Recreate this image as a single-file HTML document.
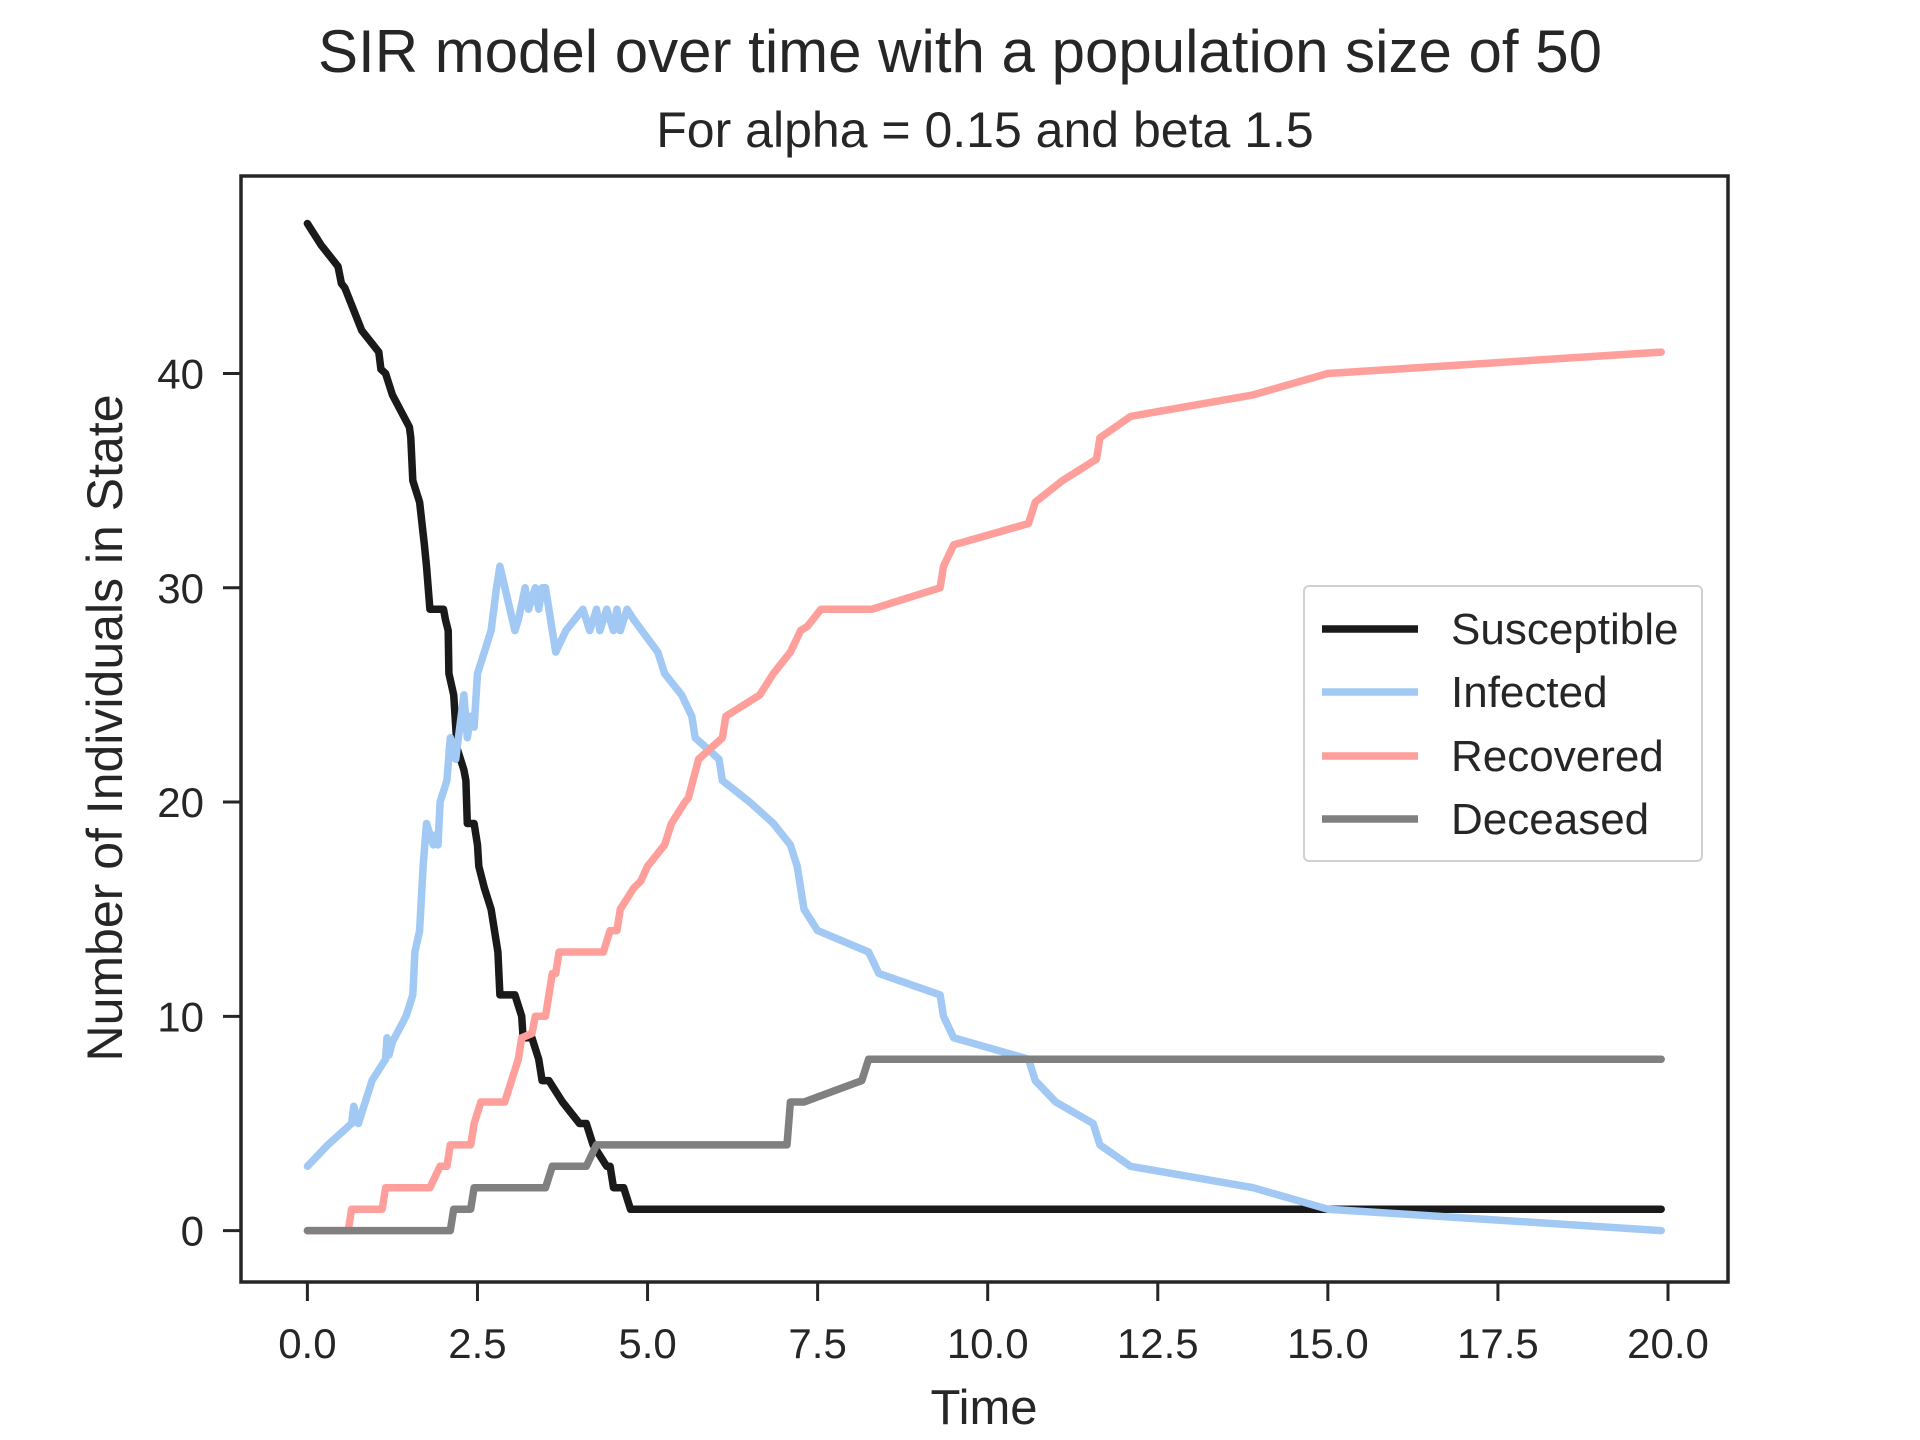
<!DOCTYPE html>
<html><head><meta charset="utf-8"><style>
html,body{margin:0;padding:0;background:#fff;}
svg{display:block;font-family:"Liberation Sans",Arial,sans-serif;}
</style></head><body>
<svg id="chart" width="1920" height="1440" viewBox="0 0 1920 1440">
<rect width="1920" height="1440" fill="#fff"/>
<text x="960" y="72" font-size="60" text-anchor="middle" fill="#262626">SIR model over time with a population size of 50</text>
<text x="985" y="147" font-size="50" text-anchor="middle" fill="#262626">For alpha = 0.15 and beta 1.5</text>
<g id="plot"></g>
<rect x="241" y="176" width="1487" height="1106" fill="none" stroke="#262626" stroke-width="3.5"/>
<text x="984" y="1424" font-size="49" text-anchor="middle" fill="#262626">Time</text>
<text x="0" y="0" font-size="50" text-anchor="middle" fill="#262626" transform="translate(122,728) rotate(-90)">Number of Individuals in State</text>
<g>
<rect x="1304" y="586" width="398" height="275" rx="5" fill="#fff" stroke="#d0d0d0" stroke-width="2"/>
<line x1="1322" y1="629" x2="1418" y2="629" stroke="#1a1a1a" stroke-width="7.5"/>
<text x="1451" y="644" font-size="44" fill="#262626">Susceptible</text>
<line x1="1322" y1="692" x2="1418" y2="692" stroke="#a1c9f4" stroke-width="7.5"/>
<text x="1451" y="707" font-size="44" fill="#262626">Infected</text>
<line x1="1322" y1="756" x2="1418" y2="756" stroke="#ff9f9b" stroke-width="7.5"/>
<text x="1451" y="771" font-size="44" fill="#262626">Recovered</text>
<line x1="1322" y1="819" x2="1418" y2="819" stroke="#808080" stroke-width="7.5"/>
<text x="1451" y="834" font-size="44" fill="#262626">Deceased</text>
</g>
</svg>
<script>
const xTicks=[0,2.5,5,7.5,10,12.5,15,17.5,20];
const xTickLabels=["0.0","2.5","5.0","7.5","10.0","12.5","15.0","17.5","20.0"];
const yTicks=[0,10,20,30,40];
const yTickLabels=["0","10","20","30","40"];
const susceptible=[[0,47],[0.2,46],[0.45,45],[0.5,44.2],[0.55,44],[0.8,42],[1.05,41],[1.08,40.2],[1.15,40],[1.25,39],[1.5,37.5],[1.52,37],[1.55,35],[1.65,34],[1.72,32],[1.75,31],[1.8,29],[2.0,29],[2.03,28.5],[2.07,28],[2.08,26],[2.15,25],[2.2,22.5],[2.3,21.5],[2.33,21],[2.35,19],[2.45,19],[2.5,18],[2.52,17],[2.6,16],[2.7,15],[2.75,14],[2.8,13],[2.83,11],[3.05,11],[3.15,10],[3.17,9],[3.3,9],[3.4,8],[3.45,7],[3.55,7],[3.75,6],[4.0,5],[4.1,5],[4.2,4],[4.4,3],[4.45,3],[4.5,2],[4.65,2],[4.75,1],[19.9,1]];
const infected=[[0,3],[0.3,4],[0.65,5],[0.68,5.8],[0.75,5],[0.95,7],[1.15,8],[1.17,9],[1.2,8.2],[1.25,8.8],[1.45,10],[1.55,11],[1.58,13],[1.65,14],[1.7,17],[1.75,19],[1.85,18],[1.9,18.5],[1.92,18],[1.95,20],[2.05,21],[2.1,23],[2.18,22],[2.22,23],[2.3,25],[2.35,23],[2.4,24],[2.45,23.5],[2.5,26],[2.6,27],[2.7,28],[2.78,30],[2.83,31],[3.05,28],[3.1,28.5],[3.2,30],[3.25,29],[3.35,30],[3.4,29],[3.45,30],[3.5,30],[3.65,27],[3.8,28],[4.05,29],[4.15,28],[4.25,29],[4.3,28],[4.4,29],[4.5,28],[4.55,29],[4.6,28],[4.7,29],[4.8,28.5],[5.15,27],[5.25,26],[5.5,25],[5.65,24],[5.7,23],[6.05,22],[6.1,21],[6.5,20],[6.85,19],[7.1,18],[7.2,17],[7.3,15],[7.5,14],[8.25,13],[8.4,12],[9.3,11],[9.35,10],[9.5,9],[10.6,8],[10.7,7],[11,6],[11.55,5],[11.65,4],[12.1,3],[13.9,2],[15,1],[19.9,0]];
const recovered=[[0,0],[0.6,0],[0.65,1],[1.1,1],[1.15,2],[1.8,2],[1.95,3],[2.05,3],[2.1,4],[2.4,4],[2.45,5],[2.5,5.5],[2.55,6],[2.9,6],[3.0,7],[3.1,8],[3.15,9],[3.3,9.2],[3.35,10],[3.5,10],[3.55,11],[3.6,12],[3.65,12],[3.7,13],[4.35,13],[4.45,14],[4.55,14],[4.6,15],[4.8,16],[4.9,16.3],[5.0,17],[5.25,18],[5.35,19],[5.55,20],[5.6,20.2],[5.75,22],[6.1,23],[6.15,24],[6.65,25],[6.85,26],[7.1,27],[7.25,28],[7.35,28.2],[7.55,29],[8.3,29],[9.3,30],[9.35,31],[9.5,32],[10.6,33],[10.7,34],[11.1,35],[11.6,36],[11.65,37],[12.1,38],[13.9,39],[15,40],[19.9,41]];
const deceased=[[0,0],[2.1,0],[2.15,1],[2.4,1],[2.45,2],[3.5,2],[3.6,3],[4.1,3],[4.25,4],[7.05,4],[7.1,6],[7.3,6],[8.15,7],[8.25,8],[19.9,8]];

const NS="http://www.w3.org/2000/svg";
const plot=document.getElementById('plot');
function xs(t){return 307.4+t*(1668-307.4)/20;}
function ys(v){return 1230.6-v*(1230.6-373.5)/40;}
xTicks.forEach((t,i)=>{
  const l=document.createElementNS(NS,'line');
  l.setAttribute('x1',xs(t));l.setAttribute('x2',xs(t));l.setAttribute('y1',1283);l.setAttribute('y2',1301);
  l.setAttribute('stroke','#262626');l.setAttribute('stroke-width','3');
  
  
  plot.appendChild(l);
  const tx=document.createElementNS(NS,'text');
  tx.setAttribute('x',xs(t));tx.setAttribute('y',1358);tx.setAttribute('font-size','42');
  tx.setAttribute('text-anchor','middle');tx.setAttribute('fill','#262626');
  tx.textContent=xTickLabels[i];
  
  
  plot.appendChild(tx);
});
yTicks.forEach((v,i)=>{
  const l=document.createElementNS(NS,'line');
  l.setAttribute('x1',223);l.setAttribute('x2',241);l.setAttribute('y1',ys(v));l.setAttribute('y2',ys(v));
  l.setAttribute('stroke','#262626');l.setAttribute('stroke-width','3');
  
  
  plot.appendChild(l);
  const tx=document.createElementNS(NS,'text');
  tx.setAttribute('x',204);tx.setAttribute('y',ys(v)+15);tx.setAttribute('font-size','42');
  tx.setAttribute('text-anchor','end');tx.setAttribute('fill','#262626');
  tx.textContent=yTickLabels[i];
  
  
  plot.appendChild(tx);
});
function drawLine(data,color,name){
  const p=document.createElementNS(NS,'polyline');
  p.setAttribute('points',data.map(d=>xs(d[0]).toFixed(1)+','+ys(d[1]).toFixed(1)).join(' '));
  p.setAttribute('fill','none');p.setAttribute('stroke',color);p.setAttribute('stroke-width','7.5');
  p.setAttribute('stroke-linecap','round');p.setAttribute('stroke-linejoin','round');
  
  
  plot.appendChild(p);
}
drawLine(susceptible,'#1a1a1a','susceptible-line');
drawLine(infected,'#a1c9f4','infected-line');
drawLine(recovered,'#ff9f9b','recovered-line');
drawLine(deceased,'#808080','deceased-line');
</script>
</body></html>
